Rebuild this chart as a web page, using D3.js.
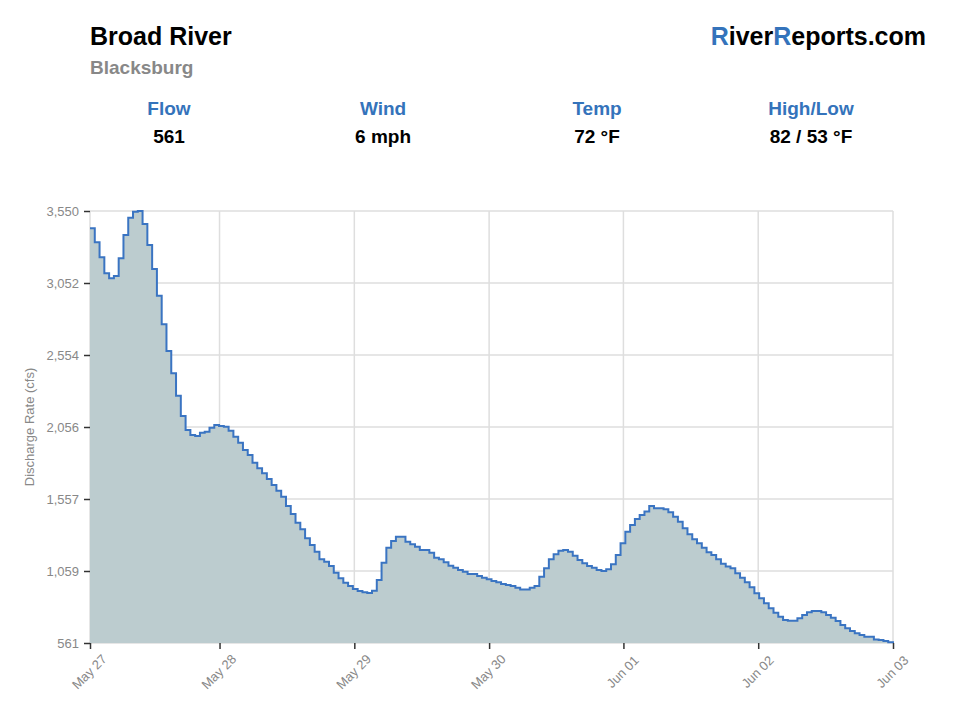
<!DOCTYPE html>
<html>
<head>
<meta charset="utf-8">
<script src="https://cdn.jsdelivr.net/npm/d3@7"></script>
<style>
	body { margin: 0; background: #fff; }
	text { font-family: "Liberation Sans", Arial, Helvetica, sans-serif; }
</style>
</head>
<body>
<div id="chartContainer"></div>
<script>

// hourly discharge readings (cfs), May 27 -> Jun 03
const flowValues = [
	3430, 3333, 3230, 3119, 3084, 3100, 3223, 3384, 3504, 3545, 3550, 3460,
	3315, 3149, 2964, 2766, 2581, 2427, 2272, 2132, 2035, 2000, 1993, 2016,
	2023, 2051, 2069, 2062, 2057, 2030, 1988, 1947, 1896, 1862, 1808, 1770,
	1735, 1696, 1654, 1615, 1573, 1509, 1454, 1393, 1348, 1285, 1239, 1193,
	1140, 1124, 1094, 1047, 1009, 978, 955, 935, 921, 912, 907, 923,
	997, 1117, 1220, 1267, 1296, 1296, 1262, 1244, 1227, 1204, 1204, 1186,
	1151, 1140, 1119, 1096, 1082, 1066, 1054, 1038, 1038, 1025, 1013, 1002,
	990, 981, 969, 962, 955, 944, 932, 932, 944, 955, 1020, 1078,
	1140, 1175, 1200, 1204, 1193, 1165, 1135, 1112, 1094, 1082, 1066, 1059,
	1071, 1106, 1170, 1251, 1331, 1377, 1419, 1447, 1470, 1509, 1493, 1493,
	1486, 1465, 1435, 1400, 1355, 1313, 1278, 1251, 1220, 1189, 1170, 1140,
	1110, 1090, 1078, 1043, 1013, 981, 946, 905, 870, 836, 801, 771,
	743, 720, 715, 715, 732, 755, 773, 782, 782, 773, 755, 736,
	713, 686, 663, 644, 628, 616, 605, 605, 585, 582, 575, 566,
	561
];

const dateTickHours = [0, 27.1, 55.3, 83.5, 111.6, 139.8, 168];
const dateTickLabels = ["May 27", "May 28", "May 29", "May 30", "Jun 01", "Jun 02", "Jun 03"];

const statLabels = ["Flow", "Wind", "Temp", "High/Low"];
const statValues = ["561", "6 mph", "72 \u00B0F", "82 / 53 \u00B0F"];

const BLUE = "#3473bb";

function drawHeader(svg){

	svg.append("text")
		.attr("x", 90)
		.attr("y", 45)
		.attr("font-size", 25)
		.attr("font-weight", "bold")
		.attr("fill", "#000")
		.text("Broad River");

	svg.append("text")
		.attr("x", 90)
		.attr("y", 74)
		.attr("font-size", 19)
		.attr("font-weight", "bold")
		.attr("fill", "#888")
		.text("Blacksburg");

	let brand = svg.append("text")
		.attr("x", 926)
		.attr("y", 45)
		.attr("text-anchor", "end")
		.attr("font-size", 25)
		.attr("font-weight", "bold")
		.attr("fill", "#000");
	brand.append("tspan").attr("fill", BLUE).text("R");
	brand.append("tspan").text("iver");
	brand.append("tspan").attr("fill", BLUE).text("R");
	brand.append("tspan").text("eports.com");

	let statScale = d3.scaleBand()
		.domain(statLabels)
		.range([62, 918]);

	let stats = svg.selectAll(".stat")
		.data(statLabels)
		.enter()
		.append("g")
		.attr("class", "stat")
		.attr("transform", d => "translate(" + (statScale(d) + statScale.bandwidth() / 2) + ",0)");

	stats.append("text")
		.attr("y", 115)
		.attr("text-anchor", "middle")
		.attr("font-size", 19)
		.attr("font-weight", "bold")
		.attr("fill", BLUE)
		.text(d => d);

	stats.append("text")
		.attr("y", 143)
		.attr("text-anchor", "middle")
		.attr("font-size", 19)
		.attr("font-weight", "bold")
		.attr("fill", "#000")
		.text((d, i) => statValues[i]);
}

function drawFlowChart(svg){

	let left = 90, right = 893, top = 211, bottom = 643;

	let xScale = d3.scaleLinear()
		.domain([0, flowValues.length - 1])
		.range([left, right]);

	let flowExtent = d3.extent(flowValues);
	let yScale = d3.scaleLinear()
		.domain(flowExtent)
		.range([bottom, top]);

	let yTicks = d3.range(7).map(i => flowExtent[0] + i * (flowExtent[1] - flowExtent[0]) / 6);

	// grid
	svg.append("g")
		.selectAll("line")
		.data(yTicks)
		.enter()
		.append("line")
		.attr("x1", left).attr("x2", right)
		.attr("y1", d => yScale(d)).attr("y2", d => yScale(d))
		.attr("stroke", "#dedede")
		.attr("stroke-width", 1.5);

	svg.append("g")
		.selectAll("line")
		.data(dateTickHours)
		.enter()
		.append("line")
		.attr("x1", d => xScale(d)).attr("x2", d => xScale(d))
		.attr("y1", top).attr("y2", bottom)
		.attr("stroke", "#dedede")
		.attr("stroke-width", 1.5);

	let area = d3.area()
		.curve(d3.curveStepAfter)
		.x((d, i) => xScale(i))
		.y0(bottom)
		.y1(d => yScale(d));

	let line = d3.line()
		.curve(d3.curveStepAfter)
		.x((d, i) => xScale(i))
		.y(d => yScale(d));

	svg.append("path")
		.datum(flowValues)
		.attr("d", area)
		.attr("fill", "#bccccf");

	svg.append("path")
		.datum(flowValues)
		.attr("d", line)
		.attr("fill", "none")
		.attr("stroke", "#3a74c2")
		.attr("stroke-width", 2);

	// axes
	let yAxis = d3.axisLeft(yScale)
		.tickValues(yTicks)
		.tickSize(6)
		.tickPadding(5)
		.tickFormat(d3.format(",.0f"));

	let yAxisG = svg.append("g")
		.attr("transform", "translate(" + left + ",0)")
		.call(yAxis);
	yAxisG.select(".domain").remove();
	yAxisG.selectAll(".tick line").attr("stroke", "#333").attr("stroke-width", 1.5);
	yAxisG.selectAll(".tick text")
		.attr("fill", "#888")
		.attr("font-size", 13)
		.attr("font-family", "'Liberation Sans', Arial, sans-serif");

	let xAxis = d3.axisBottom(xScale)
		.tickValues(dateTickHours)
		.tickSize(6)
		.tickFormat((d, i) => dateTickLabels[i]);

	let xAxisG = svg.append("g")
		.attr("transform", "translate(0," + bottom + ")")
		.call(xAxis);
	xAxisG.select(".domain").remove();
	xAxisG.selectAll(".tick line").attr("stroke", "#333").attr("stroke-width", 1.5);
	xAxisG.selectAll(".tick text")
		.attr("fill", "#888")
		.attr("font-size", 13)
		.attr("font-family", "'Liberation Sans', Arial, sans-serif")
		.attr("text-anchor", "middle")
		.attr("dy", null)
		.attr("y", null)
		.attr("transform", "translate(2,32) rotate(-45)");

	svg.append("text")
		.attr("transform", "translate(34," + ((top + bottom) / 2) + ") rotate(-90)")
		.attr("text-anchor", "middle")
		.attr("font-size", 13)
		.attr("fill", "#888")
		.text("Discharge Rate (cfs)");
}

let chartSvg = d3.select("#chartContainer")
	.append("svg")
	.attr("width", 960)
	.attr("height", 720);

drawHeader(chartSvg);
drawFlowChart(chartSvg);

</script>
</body>
</html>
